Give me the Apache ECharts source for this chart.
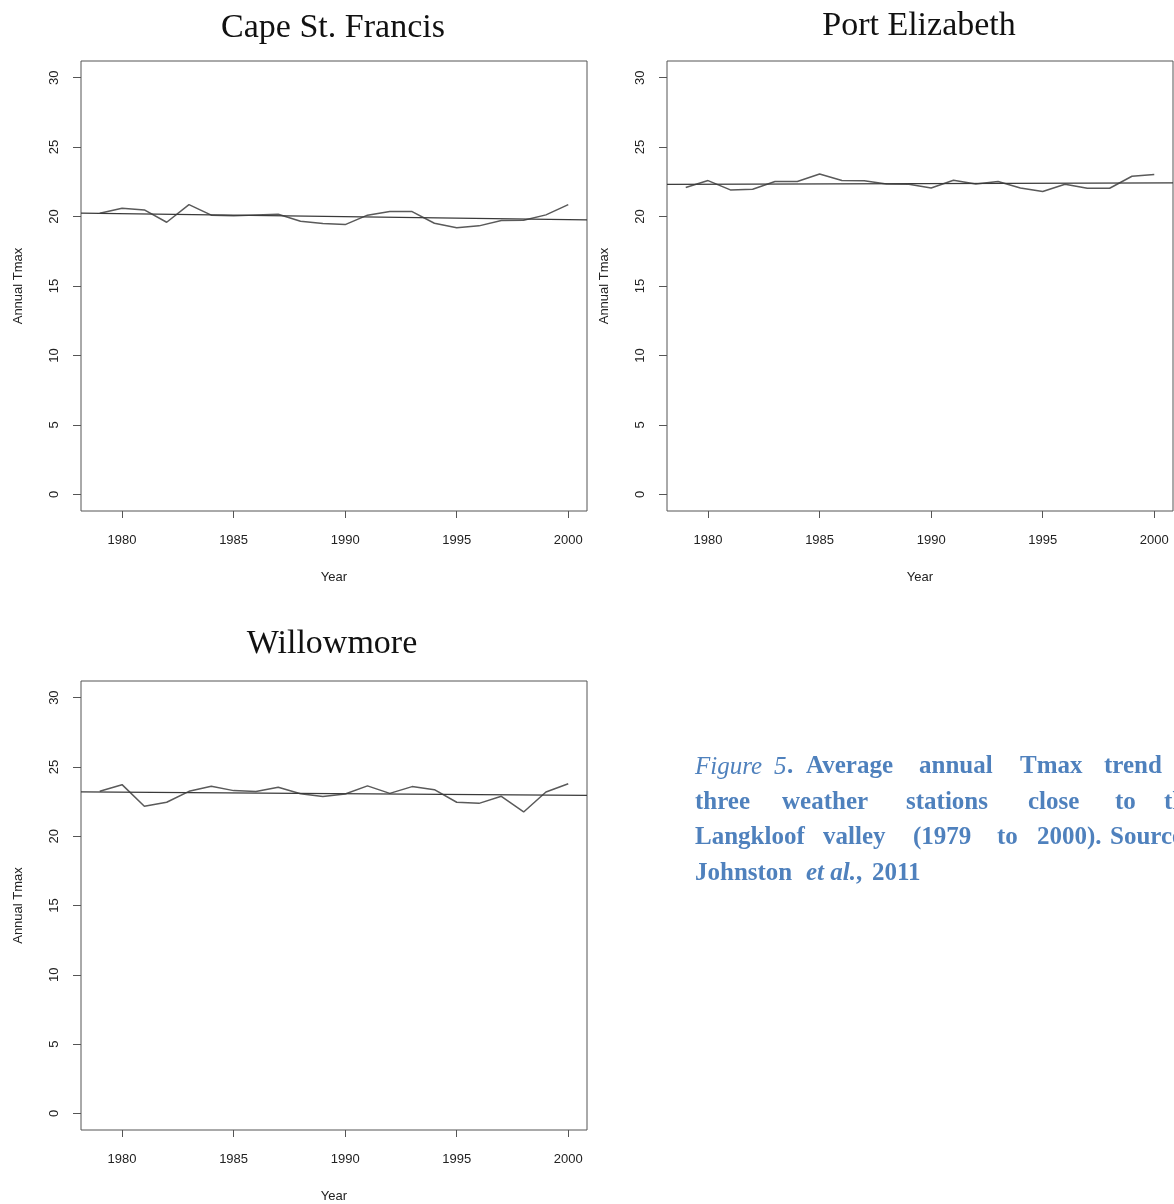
<!DOCTYPE html>
<html>
<head>
<meta charset="utf-8">
<script src="https://cdn.jsdelivr.net/npm/echarts@6/dist/echarts.min.js"></script>
<style>
html,body{margin:0;padding:0;background:#fff;}
#chart{width:1174px;height:1204px;}
</style>
</head>
<body>
<div id="chart"></div>
<script>
// ---- data ----
const years = [1979,1980,1981,1982,1983,1984,1985,1986,1987,1988,1989,1990,1991,1992,1993,1994,1995,1996,1997,1998,1999,2000];
const capeStFrancis = [20.24,20.60,20.48,19.59,20.86,20.10,20.05,20.12,20.17,19.66,19.50,19.42,20.10,20.36,20.36,19.52,19.19,19.33,19.71,19.73,20.12,20.86];
const portElizabeth = [22.09,22.59,21.92,21.97,22.52,22.52,23.07,22.59,22.57,22.35,22.33,22.06,22.61,22.35,22.52,22.06,21.80,22.33,22.04,22.04,22.90,23.02];
const willowmore = [23.24,23.72,22.16,22.45,23.24,23.60,23.29,23.22,23.53,23.07,22.86,23.05,23.63,23.09,23.58,23.36,22.45,22.37,22.88,21.75,23.19,23.79];
const stationNames = ["Cape St. Francis","Port Elizabeth","Willowmore"];
const xTicks = [1980,1985,1990,1995,2000];
const yTicks = [0,5,10,15,20,25,30];
const xAxisName = "Year";
const yAxisName = "Annual Tmax";

// R-style 4% axis extension
const xMin = years[0] - 0.04*(years[years.length-1]-years[0]);
const xMax = years[years.length-1] + 0.04*(years[years.length-1]-years[0]);
const yMin = yTicks[0] - 0.04*(yTicks[yTicks.length-1]-yTicks[0]);
const yMax = yTicks[yTicks.length-1] + 0.04*(yTicks[yTicks.length-1]-yTicks[0]);

function pairs(vals){ return years.map((y,i)=>[y, vals[i]]); }
function trend(vals){
  const n = years.length;
  const mx = years.reduce((a,b)=>a+b,0)/n;
  const my = vals.reduce((a,b)=>a+b,0)/n;
  let sxy=0, sxx=0;
  for(let i=0;i<n;i++){ sxy += (years[i]-mx)*(vals[i]-my); sxx += (years[i]-mx)*(years[i]-mx); }
  const b = sxy/sxx, a = my - b*mx;
  return [[xMin, a+b*xMin],[xMax, a+b*xMax]];
}

const axisFont = {fontFamily:'"Liberation Sans", Arial, sans-serif', fontSize:13, color:'#222'};
const grids = [
  {left:81, top:61, width:506, height:450},
  {left:667, top:61, width:506, height:450},
  {left:81, top:681, width:506, height:450}
];
const seriesData = [capeStFrancis, portElizabeth, willowmore];

const option = {
  animation:false,
  backgroundColor:'#fff',
  grid: grids.map(g=>Object.assign({show:true, borderColor:'#555', borderWidth:1, backgroundColor:'transparent'}, g)),
  xAxis: grids.map((g,i)=>({
    type:'value', gridIndex:i, min:xMin, max:xMax, position:'bottom',
    name:xAxisName, nameLocation:'middle', nameGap:60,
    nameTextStyle:axisFont,
    axisLine:{show:false, onZero:false},
    splitLine:{show:false},
    axisTick:{show:true, inside:false, length:7, lineStyle:{color:'#555'}, customValues:xTicks},
    axisLabel:Object.assign({margin:23, customValues:xTicks, formatter:v=>String(v)}, axisFont)
  })),
  yAxis: grids.map((g,i)=>({
    type:'value', gridIndex:i, min:yMin, max:yMax, position:'left',
    name:yAxisName, nameLocation:'middle', nameGap:56, nameRotate:90,
    nameTextStyle:axisFont,
    axisLine:{show:false, onZero:false},
    splitLine:{show:false},
    axisTick:{show:true, inside:false, length:8, lineStyle:{color:'#555'}, customValues:yTicks},
    axisLabel:Object.assign({margin:20, rotate:90, customValues:yTicks, formatter:v=>String(v)}, axisFont)
  })),
  series: [].concat(...seriesData.map((vals,i)=>[
    {type:'line', xAxisIndex:i, yAxisIndex:i, data:pairs(vals), showSymbol:false, symbol:'none',
     lineStyle:{color:'#5a5a5a', width:1.5}, silent:true},
    {type:'line', xAxisIndex:i, yAxisIndex:i, data:trend(vals), showSymbol:false, symbol:'none',
     lineStyle:{color:'#3a3a3a', width:1.2}, silent:true}
  ])),
  graphic: []
};

// panel titles
const titlePos = [[333,28],[919,26],[332,644]];
stationNames.forEach((t,i)=>{
  option.graphic.push({type:'text', silent:true, style:{text:t, x:titlePos[i][0], y:titlePos[i][1],
    textAlign:'center', textVerticalAlign:'middle',
    font:'34px "Liberation Serif", "Times New Roman", serif', fill:'#111'}});
});

// caption (justified text, word by word)
const capColor = '#4f81bd';
const fB = 'bold 25px "Liberation Serif", serif';
const fI = 'italic 25px "Liberation Serif", serif';
const fBI = 'italic bold 25px "Liberation Serif", serif';
const caption = [
  [767, [["Figure",695,fI],["5",774,fI],[".",787,fB],["Average",806,fB],["annual",919,fB],["Tmax",1020,fB],["trend",1104,fB]]],
  [803, [["three",695,fB],["weather",782,fB],["stations",906,fB],["close",1028,fB],["to",1115,fB],["the",1164,fB]]],
  [838, [["Langkloof",695,fB],["valley",823,fB],["(1979",913,fB],["to",997,fB],["2000).",1037,fB],["Source:",1110,fB]]],
  [874, [["Johnston",695,fB],["et al.",806,fBI],[",",856,fB],["2011",872,fB]]]
];
caption.forEach(([y, words])=>{
  words.forEach(([t,x,f])=>{
    option.graphic.push({type:'text', silent:true, style:{text:t, x:x, y:y, textAlign:'left',
      textVerticalAlign:'middle', font:f, fill:capColor}});
  });
});

const chart = echarts.init(document.getElementById('chart'), null, {renderer:'canvas'});
chart.setOption(option);
</script>
</body>
</html>
